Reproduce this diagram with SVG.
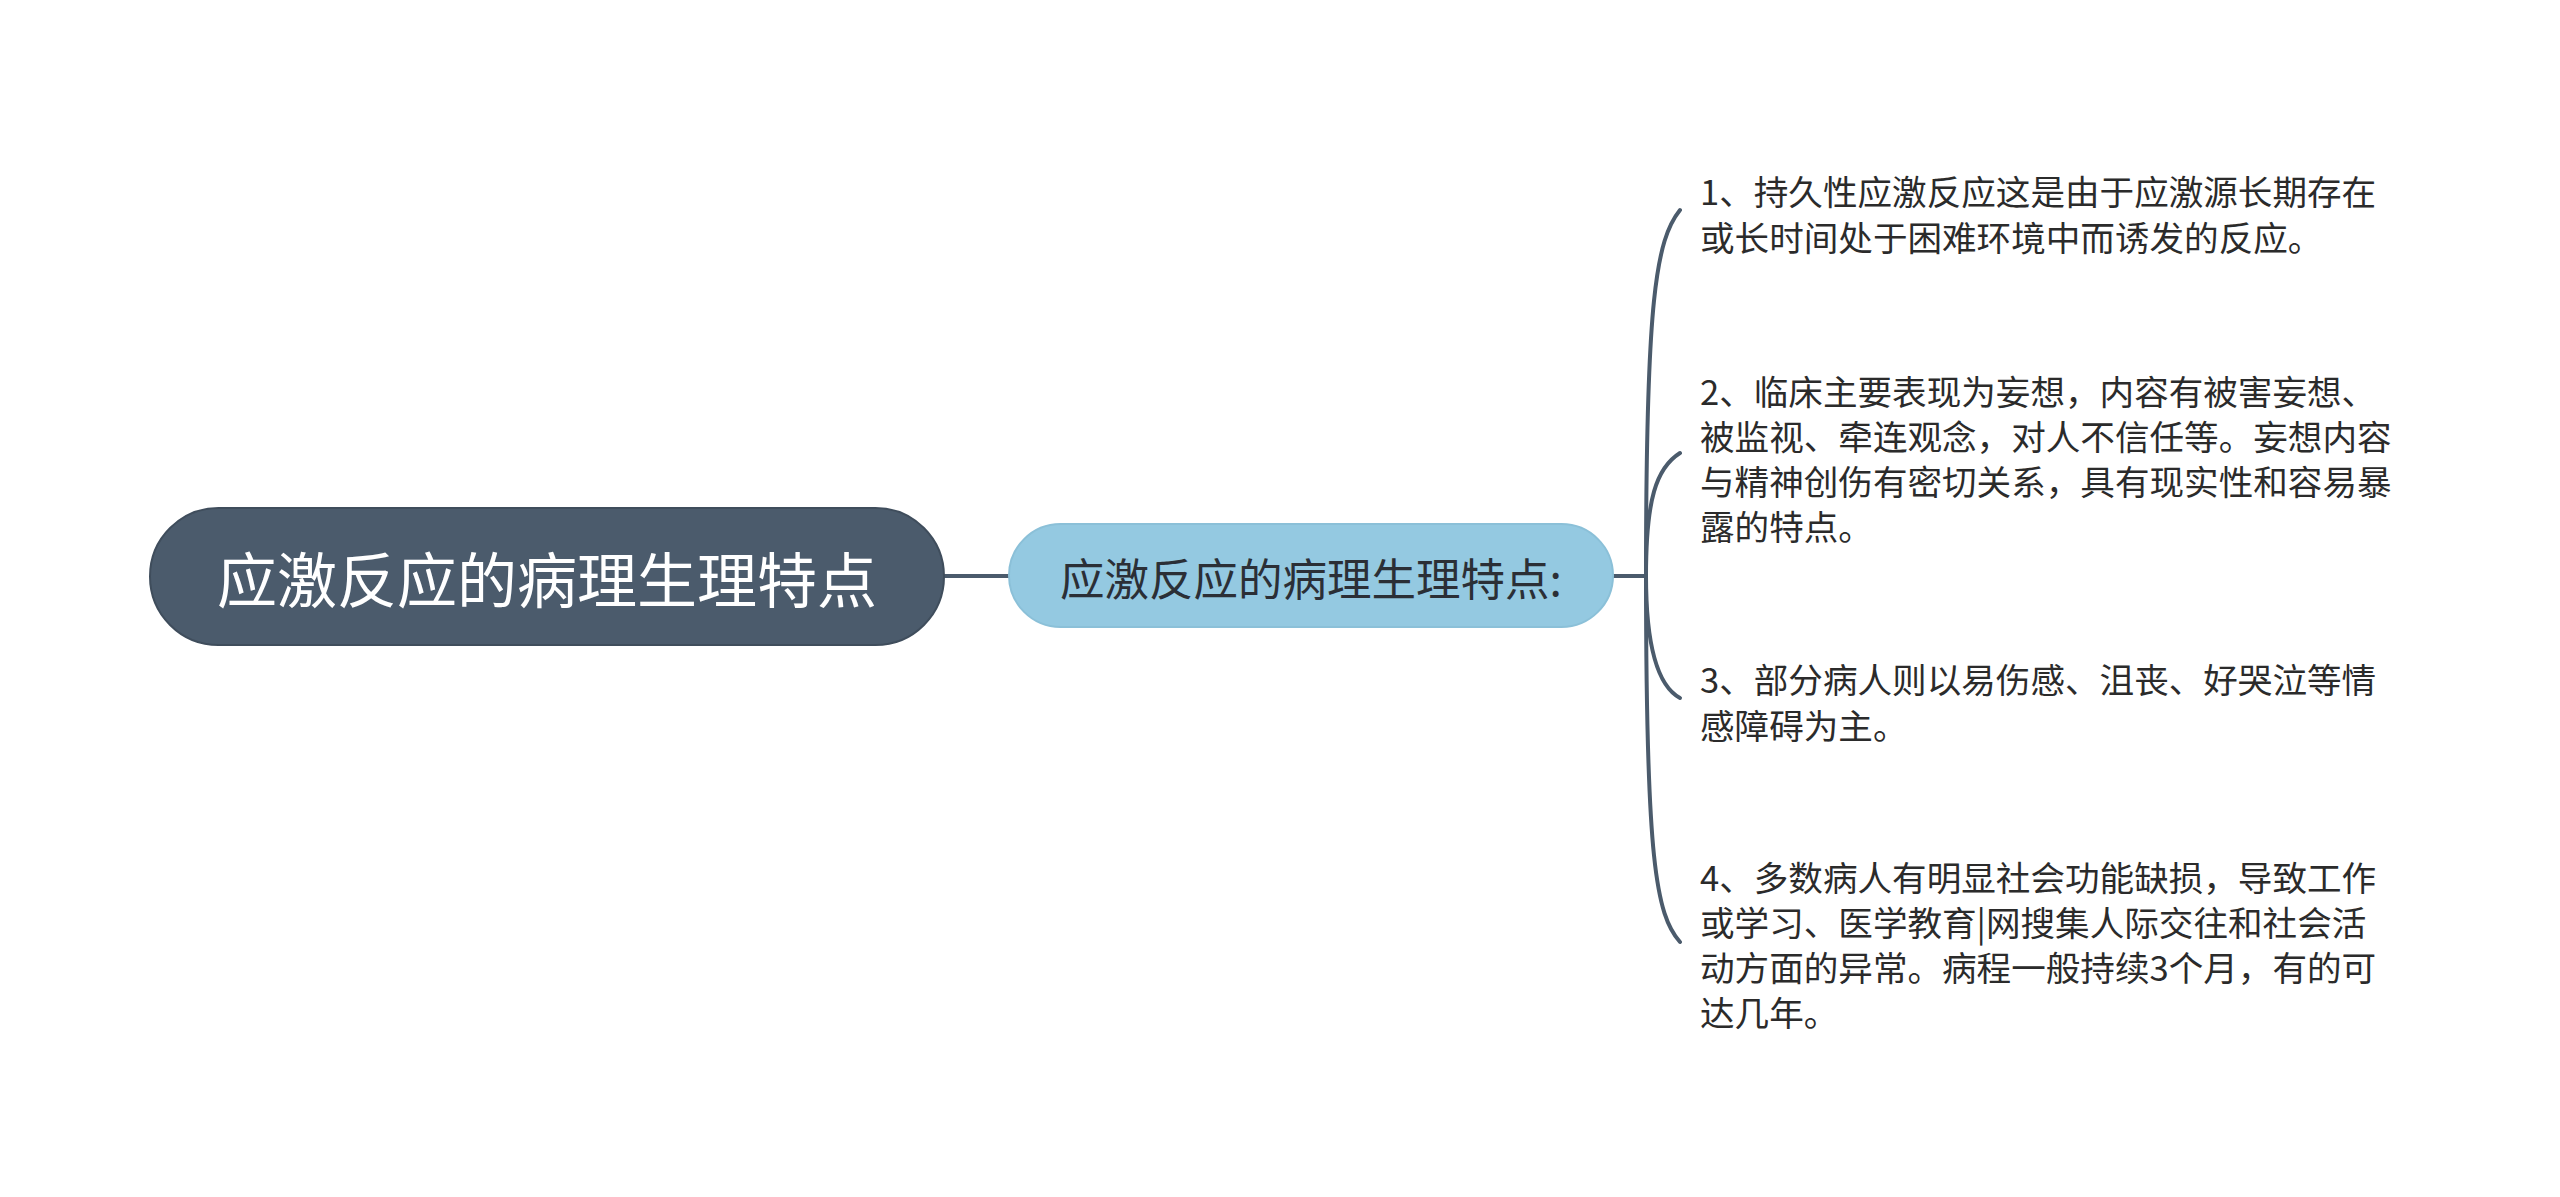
<svg xmlns="http://www.w3.org/2000/svg" width="2560" height="1197" viewBox="0 0 2560 1197">
<style>
.conn{fill:none;stroke:#4b5b6c;stroke-width:4;stroke-linecap:round}
.root-box{fill:#4b5b6c;stroke:#3f4d5c;stroke-width:2}
.root-txt{font-family:"Noto Sans CJK SC","Noto Sans",sans-serif;font-size:60px;fill:#ffffff;text-anchor:middle;dominant-baseline:central}
.mid-box{fill:#94c9e1;stroke:#8bc0d8;stroke-width:2}
.mid-txt{font-family:"Noto Sans CJK SC","Noto Sans",sans-serif;font-size:44.5px;fill:#2b2f36;text-anchor:middle;dominant-baseline:central}
.leaf-txt{font-family:"Noto Sans CJK SC","Noto Sans",sans-serif;font-size:34.6px;fill:#2b2b2b;dominant-baseline:central}
</style>
<rect width="2560" height="1197" fill="#ffffff"/>
<g id="connectors">
<path class="conn" d="M944 576 L1009 576"/>
<path class="conn" d="M1613 576 L1646 576"/>
<path class="conn" d="M1646 576 C1646 300 1656 240 1680 210"/>
<path class="conn" d="M1646 576 C1646 500 1656 468 1680 453"/>
<path class="conn" d="M1646 576 C1646 640 1656 685 1680 698"/>
<path class="conn" d="M1646 576 C1646 860 1656 915 1680 942"/>
</g>
<g id="root">
<rect class="root-box" x="150" y="508" width="794" height="137" rx="68.5"/>
<text class="root-txt" x="547" y="576">应激反应的病理生理特点</text>
</g>
<g id="mid">
<rect class="mid-box" x="1009" y="524" width="604" height="103" rx="51.5"/>
<text class="mid-txt" x="1311" y="576">应激反应的病理生理特点:</text>
</g>
<g id="leaf1">
<text class="leaf-txt" x="1700" y="190"><tspan x="1700" y="190">1、持久性应激反应这是由于应激源长期存在</tspan><tspan x="1700" y="235.5">或长时间处于困难环境中而诱发的反应。</tspan></text>
</g>
<g id="leaf2">
<text class="leaf-txt" x="1700" y="390"><tspan x="1700" y="390">2、临床主要表现为妄想，内容有被害妄想、</tspan><tspan x="1700" y="435">被监视、牵连观念，对人不信任等。妄想内容</tspan><tspan x="1700" y="480">与精神创伤有密切关系，具有现实性和容易暴</tspan><tspan x="1700" y="525">露的特点。</tspan></text>
</g>
<g id="leaf3">
<text class="leaf-txt" x="1700" y="678"><tspan x="1700" y="678">3、部分病人则以易伤感、沮丧、好哭泣等情</tspan><tspan x="1700" y="724">感障碍为主。</tspan></text>
</g>
<g id="leaf4">
<text class="leaf-txt" x="1700" y="876"><tspan x="1700" y="876">4、多数病人有明显社会功能缺损，导致工作</tspan><tspan x="1700" y="921">或学习、医学教育|网搜集人际交往和社会活</tspan><tspan x="1700" y="966">动方面的异常。病程一般持续3个月，有的可</tspan><tspan x="1700" y="1011">达几年。</tspan></text>
</g>
</svg>
